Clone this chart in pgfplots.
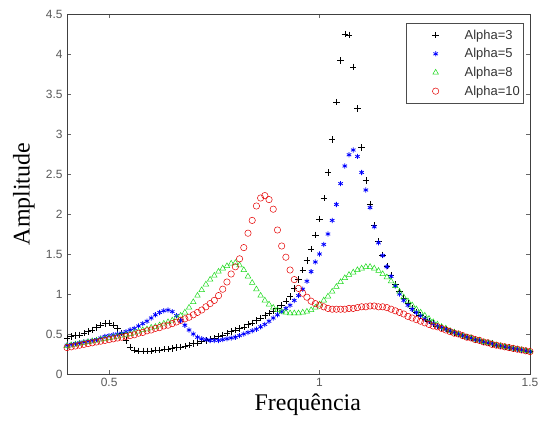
\documentclass[border=0pt]{standalone}
\usepackage{fontspec}
\setmainfont{Liberation Serif}
\newfontfamily\ticksf{Liberation Sans}
\usepackage{pgfplots}
\pgfplotsset{compat=1.18}
\definecolor{mgreen}{rgb}{0.1,0.85,0.1}
\begin{document}
\begin{tikzpicture}
\begin{axis}[
  scale only axis, width=463bp, height=360bp,
  xmin=0.4, xmax=1.5, ymin=0, ymax=4.5,
  xtick={0.5,1,1.5}, xticklabels={0.5,1,1.5},
  ytick={0,0.5,1,1.5,2,2.5,3,3.5,4,4.5},
  yticklabels={0,0.5,1,1.5,2,2.5,3,3.5,4,4.5},
  tick align=inside, tick pos=both, major tick length=4bp,
  axis line style={black!75, line width=0.8bp},
  tick style={black!60, line width=0.5bp},
  ticklabel style={font=\ticksf\fontsize{12}{14}\selectfont, text=black!65},
  xticklabel style={yshift=-1bp},
  yticklabel style={xshift=-1bp},
  xlabel={Frequência}, ylabel={Amplitude},
  xlabel style={font=\fontsize{24}{28}\selectfont, at={(axis description cs:0.52,-0.1)}, anchor=base},
  ylabel style={font=\fontsize{24}{28}\selectfont, at={(axis description cs:-0.093,0.5)}, anchor=center},
  legend style={at={(0.987,0.975)}, anchor=north east, draw=black!70, line width=0.5bp,
    font=\ticksf\fontsize{13}{15}\selectfont, text=black!80, inner xsep=2bp, inner ysep=4.5bp,
    row sep=3.8bp, legend cell align=left},
  every axis plot/.append style={only marks, line width=0.5bp,
    legend image code/.code={\path[draw=none,fill=none] (0bp,0bp) -- (54bp,0bp); \draw[##1] plot[only marks] coordinates {(27bp,0bp)};}},
]
\addplot[black, mark=+, mark size=3.2bp] coordinates {
(0.40,0.45)(0.41,0.47)(0.42,0.48)(0.43,0.49)(0.44,0.51)(0.45,0.53)(0.46,0.55)(0.47,0.58)(0.48,0.61)(0.49,0.63)
(0.50,0.64)(0.51,0.61)(0.52,0.57)(0.53,0.51)(0.54,0.42)(0.55,0.34)(0.56,0.30)(0.57,0.29)(0.58,0.29)(0.59,0.29)
(0.60,0.29)(0.61,0.30)(0.62,0.30)(0.63,0.31)(0.64,0.31)(0.65,0.32)(0.66,0.33)(0.67,0.34)(0.68,0.35)(0.69,0.36)
(0.70,0.38)(0.71,0.39)(0.72,0.41)(0.73,0.42)(0.74,0.44)(0.75,0.45)(0.76,0.47)(0.77,0.49)(0.78,0.51)(0.79,0.53)
(0.80,0.55)(0.81,0.57)(0.82,0.59)(0.83,0.62)(0.84,0.64)(0.85,0.67)(0.86,0.70)(0.87,0.73)(0.88,0.76)(0.89,0.79)
(0.90,0.82)(0.91,0.86)(0.92,0.91)(0.93,0.97)(0.94,1.07)(0.95,1.18)(0.96,1.30)(0.97,1.42)(0.98,1.56)(0.99,1.74)
(1.00,1.94)(1.01,2.20)(1.02,2.52)(1.03,2.93)(1.04,3.40)(1.05,3.92)(1.06,4.25)(1.07,4.24)(1.08,3.84)(1.09,3.32)
(1.10,2.83)(1.11,2.42)(1.12,2.12)(1.13,1.86)(1.14,1.66)(1.15,1.49)(1.16,1.35)(1.17,1.23)(1.18,1.12)(1.19,1.03)
(1.20,0.95)(1.21,0.88)(1.22,0.82)(1.23,0.77)(1.24,0.73)(1.25,0.69)(1.26,0.66)(1.27,0.63)(1.28,0.60)(1.29,0.58)
(1.30,0.56)(1.31,0.54)(1.32,0.52)(1.33,0.50)(1.34,0.48)(1.35,0.46)(1.36,0.45)(1.37,0.43)(1.38,0.42)(1.39,0.40)
(1.40,0.39)(1.41,0.38)(1.42,0.36)(1.43,0.35)(1.44,0.34)(1.45,0.33)(1.46,0.32)(1.47,0.31)(1.48,0.30)(1.49,0.29)
(1.50,0.28)};
\addlegendentry{Alpha=3}
\addplot[blue, mark=asterisk, mark size=2.6bp, line width=0.8bp] coordinates {
(0.40,0.36)(0.41,0.37)(0.42,0.38)(0.43,0.39)(0.44,0.40)(0.45,0.41)(0.46,0.42)(0.47,0.43)(0.48,0.45)(0.49,0.47)
(0.50,0.48)(0.51,0.49)(0.52,0.50)(0.53,0.51)(0.54,0.53)(0.55,0.55)(0.56,0.57)(0.57,0.60)(0.58,0.63)(0.59,0.66)
(0.60,0.70)(0.61,0.74)(0.62,0.77)(0.63,0.79)(0.64,0.80)(0.65,0.78)(0.66,0.73)(0.67,0.67)(0.68,0.61)(0.69,0.55)
(0.70,0.50)(0.71,0.46)(0.72,0.44)(0.73,0.43)(0.74,0.42)(0.75,0.42)(0.76,0.42)(0.77,0.43)(0.78,0.44)(0.79,0.45)
(0.80,0.46)(0.81,0.48)(0.82,0.50)(0.83,0.52)(0.84,0.54)(0.85,0.56)(0.86,0.59)(0.87,0.62)(0.88,0.66)(0.89,0.70)
(0.90,0.74)(0.91,0.78)(0.92,0.82)(0.93,0.86)(0.94,0.92)(0.95,0.98)(0.96,1.06)(0.97,1.16)(0.98,1.28)(0.99,1.40)
(1.00,1.50)(1.01,1.62)(1.02,1.75)(1.03,1.92)(1.04,2.12)(1.05,2.38)(1.06,2.60)(1.07,2.74)(1.08,2.80)(1.09,2.72)
(1.10,2.52)(1.11,2.30)(1.12,2.08)(1.13,1.84)(1.14,1.64)(1.15,1.48)(1.16,1.34)(1.17,1.22)(1.18,1.10)(1.19,1.00)
(1.20,0.92)(1.21,0.86)(1.22,0.81)(1.23,0.77)(1.24,0.73)(1.25,0.69)(1.26,0.66)(1.27,0.63)(1.28,0.60)(1.29,0.58)
(1.30,0.56)(1.31,0.54)(1.32,0.52)(1.33,0.50)(1.34,0.48)(1.35,0.46)(1.36,0.45)(1.37,0.43)(1.38,0.42)(1.39,0.40)
(1.40,0.39)(1.41,0.38)(1.42,0.36)(1.43,0.35)(1.44,0.34)(1.45,0.33)(1.46,0.32)(1.47,0.31)(1.48,0.30)(1.49,0.29)
(1.50,0.28)};
\addlegendentry{Alpha=5}
\addplot[mgreen, mark=triangle, mark size=3.2bp] coordinates {
(0.40,0.35)(0.41,0.36)(0.42,0.37)(0.43,0.38)(0.44,0.39)(0.45,0.40)(0.46,0.41)(0.47,0.42)(0.48,0.43)(0.49,0.44)
(0.50,0.45)(0.51,0.46)(0.52,0.47)(0.53,0.48)(0.54,0.49)(0.55,0.50)(0.56,0.52)(0.57,0.53)(0.58,0.55)(0.59,0.56)
(0.60,0.58)(0.61,0.59)(0.62,0.61)(0.63,0.63)(0.64,0.65)(0.65,0.67)(0.66,0.70)(0.67,0.73)(0.68,0.77)(0.69,0.83)
(0.70,0.90)(0.71,0.98)(0.72,1.05)(0.73,1.12)(0.74,1.18)(0.75,1.23)(0.76,1.28)(0.77,1.32)(0.78,1.35)(0.79,1.38)
(0.80,1.39)(0.81,1.36)(0.82,1.30)(0.83,1.22)(0.84,1.14)(0.85,1.06)(0.86,0.98)(0.87,0.92)(0.88,0.87)(0.89,0.83)
(0.90,0.80)(0.91,0.78)(0.92,0.77)(0.93,0.76)(0.94,0.76)(0.95,0.76)(0.96,0.77)(0.97,0.78)(0.98,0.80)(0.99,0.83)
(1.00,0.87)(1.01,0.92)(1.02,0.97)(1.03,1.03)(1.04,1.09)(1.05,1.15)(1.06,1.20)(1.07,1.24)(1.08,1.27)(1.09,1.30)
(1.10,1.32)(1.11,1.34)(1.12,1.34)(1.13,1.32)(1.14,1.29)(1.15,1.25)(1.16,1.21)(1.17,1.16)(1.18,1.10)(1.19,1.03)
(1.20,0.96)(1.21,0.91)(1.22,0.86)(1.23,0.81)(1.24,0.77)(1.25,0.73)(1.26,0.69)(1.27,0.65)(1.28,0.62)(1.29,0.59)
(1.30,0.57)(1.31,0.54)(1.32,0.52)(1.33,0.50)(1.34,0.48)(1.35,0.46)(1.36,0.45)(1.37,0.43)(1.38,0.42)(1.39,0.40)
(1.40,0.39)(1.41,0.38)(1.42,0.36)(1.43,0.35)(1.44,0.34)(1.45,0.33)(1.46,0.32)(1.47,0.31)(1.48,0.30)(1.49,0.29)
(1.50,0.28)};
\addlegendentry{Alpha=8}
\addplot[red!90!black, mark=o, mark size=3.2bp] coordinates {
(0.40,0.33)(0.41,0.34)(0.42,0.35)(0.43,0.36)(0.44,0.37)(0.45,0.38)(0.46,0.39)(0.47,0.40)(0.48,0.41)(0.49,0.42)
(0.50,0.43)(0.51,0.44)(0.52,0.45)(0.53,0.46)(0.54,0.47)(0.55,0.48)(0.56,0.49)(0.57,0.51)(0.58,0.52)(0.59,0.54)
(0.60,0.55)(0.61,0.57)(0.62,0.58)(0.63,0.60)(0.64,0.61)(0.65,0.63)(0.66,0.65)(0.67,0.67)(0.68,0.69)(0.69,0.71)
(0.70,0.74)(0.71,0.77)(0.72,0.80)(0.73,0.84)(0.74,0.88)(0.75,0.92)(0.76,0.98)(0.77,1.06)(0.78,1.15)(0.79,1.25)
(0.80,1.34)(0.81,1.44)(0.82,1.58)(0.83,1.76)(0.84,1.92)(0.85,2.10)(0.86,2.20)(0.87,2.23)(0.88,2.18)(0.89,2.06)
(0.90,1.80)(0.91,1.60)(0.92,1.46)(0.93,1.30)(0.94,1.18)(0.95,1.07)(0.96,1.01)(0.97,0.96)(0.98,0.91)(0.99,0.88)
(1.00,0.86)(1.01,0.84)(1.02,0.82)(1.03,0.81)(1.04,0.81)(1.05,0.81)(1.06,0.81)(1.07,0.82)(1.08,0.82)(1.09,0.83)
(1.10,0.84)(1.11,0.84)(1.12,0.85)(1.13,0.85)(1.14,0.84)(1.15,0.84)(1.16,0.83)(1.17,0.81)(1.18,0.79)(1.19,0.77)
(1.20,0.75)(1.21,0.72)(1.22,0.70)(1.23,0.68)(1.24,0.66)(1.25,0.64)(1.26,0.62)(1.27,0.60)(1.28,0.59)(1.29,0.57)
(1.30,0.55)(1.31,0.53)(1.32,0.51)(1.33,0.50)(1.34,0.48)(1.35,0.46)(1.36,0.45)(1.37,0.43)(1.38,0.42)(1.39,0.40)
(1.40,0.39)(1.41,0.37)(1.42,0.36)(1.43,0.35)(1.44,0.34)(1.45,0.33)(1.46,0.32)(1.47,0.31)(1.48,0.30)(1.49,0.29)
(1.50,0.28)};
\addlegendentry{Alpha=10}
\end{axis}
\pgfresetboundingbox
\path ([shift={(-67bp,-47bp)}]current axis.south west) rectangle ([shift={(9bp,14bp)}]current axis.north east);
\end{tikzpicture}
\end{document}
